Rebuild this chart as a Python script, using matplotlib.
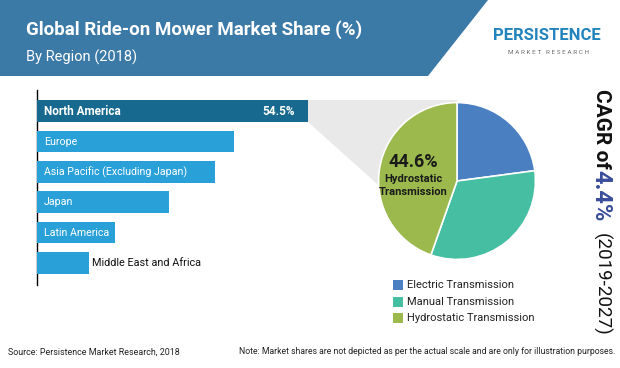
import matplotlib
matplotlib.use("Agg")
import matplotlib.pyplot as plt
from matplotlib import font_manager
from matplotlib.patches import Polygon, Rectangle

names = {f.name for f in font_manager.fontManager.ttflist}
NARROW = "Liberation Sans Narrow" if "Liberation Sans Narrow" in names else "Roboto"
MAIN = "Roboto" if "Roboto" in names else "DejaVu Sans"
plt.rcParams["font.family"] = [MAIN, "DejaVu Sans"]

# ---- data ----
regions = ["North America", "Europe", "Asia Pacific (Excluding Japan)", "Japan",
           "Latin America", "Middle East and Africa"]
region_share = [54.5, 39.6, 35.8, 26.6, 15.7, 10.5]
segments = ["Electric Transmission", "Manual Transmission", "Hydrostatic Transmission"]
segment_share = [22.9, 32.5, 44.6]
seg_colors = ["#4a80c2", "#45bea2", "#9bb94c"]
title = "Global Ride-on Mower Market Share (%)"
subtitle = "By Region (2018)"
cagr = "4.4%"
period = "(2019-2027)"

W, H = 620, 368
fig = plt.figure(figsize=(W / 100, H / 100), dpi=100)
fig.patch.set_facecolor("white")

def rect(x, y, w, h):
    return [x / W, 1 - (y + h) / H, w / W, h / H]

# overlay axes in pixel coordinates
ov = fig.add_axes([0, 0, 1, 1], zorder=0)
ov.set_xlim(0, W)
ov.set_ylim(H, 0)
ov.axis("off")

# header band
ov.add_patch(Polygon([(0, 0), (488, 0), (428, 76), (0, 76)], closed=True,
                     facecolor="#3b79a7", edgecolor="none"))
ov.text(26, 30, title, color="white", fontsize=13.5, fontweight="bold",
        family=[NARROW, MAIN], va="center", ha="left")
ov.text(26, 57, subtitle, color="white", fontsize=10.5,
        family=[NARROW, MAIN], va="center", ha="left")
# logo
ov.text(547, 36, "PERSISTENCE", color="#2384bd", fontsize=12, fontweight="bold",
        family=[NARROW, MAIN], va="center", ha="center")
ov.text(548, 52, "M A R K E T   R E S E A R C H", color="#6d6d6d", fontsize=4.6,
        family=[NARROW, MAIN], va="center", ha="center")

# connector shading from NA bar to pie
ov.add_patch(Polygon([(308, 100), (458, 100), (395, 200), (308, 122)], closed=True,
                     facecolor="#e9e9e9", edgecolor="none"))
# vertical axis line
ov.plot([37, 37], [90, 285], color="black", lw=1.0)

# bar axes
xmax = region_share[0] * 300 / 271
bx = fig.add_axes(rect(37, 96, 300, 182), zorder=2)
bx.set_xlim(0, xmax)
bx.set_ylim(len(regions) - 0.5, -0.5)
bx.axis("off")
bx.patch.set_alpha(0)
ypos = list(range(len(regions)))
bar_colors = ["#17698f"] + ["#2aa0d8"] * (len(regions) - 1)
bx.barh(ypos, region_share, height=0.72, color=bar_colors, edgecolor="none")
for i, (r, v) in enumerate(zip(regions, region_share)):
    if i == 0:
        bx.text(1.4, i, r, color="white", fontsize=8.5, fontweight="bold",
                family=[NARROW, MAIN], va="center")
        bx.text(v - 2.6, i, f"{v}%", color="white", fontsize=8.5, fontweight="bold",
                family=[NARROW, MAIN], va="center", ha="right")
    elif i == len(regions) - 1:
        bx.text(v + 0.6, i, r, color="#111111", fontsize=7.8,
                family=[NARROW, MAIN], va="center")
    else:
        bx.text(1.4, i, r, color="white", fontsize=7.7,
                family=[NARROW, MAIN], va="center")

# pie
px = fig.add_axes(rect(377, 101, 160, 160), zorder=3)
px.pie(segment_share, colors=seg_colors, startangle=90, counterclock=False,
       radius=1.0, wedgeprops=dict(edgecolor="white", linewidth=1.2))
px.set_xlim(-1.02, 1.02)
px.set_ylim(-1.02, 1.02)
px.set_aspect("equal")
px.axis("off")
px.patch.set_alpha(0)

ov2 = fig.add_axes([0, 0, 1, 1], zorder=4)
ov2.set_xlim(0, W)
ov2.set_ylim(H, 0)
ov2.axis("off")
ov2.patch.set_alpha(0)
ov2.text(413, 162, f"{segment_share[2]}%", fontsize=13, fontweight="bold",
         color="#1b1b1b", family=[NARROW, MAIN], ha="center", va="center")
ov2.text(413, 179, "Hydrostatic", fontsize=8, fontweight="bold",
         color="#1b1b1b", family=[NARROW, MAIN], ha="center", va="center")
ov2.text(413, 192, "Transmission", fontsize=8, fontweight="bold",
         color="#1b1b1b", family=[NARROW, MAIN], ha="center", va="center")

# legend
for k, (s, c) in enumerate(zip(segments, seg_colors)):
    yc = 285 + k * 16.7
    ov2.add_patch(Rectangle((393, yc - 5), 10, 10, facecolor=c, edgecolor="none"))
    ov2.text(407, yc, s, fontsize=8, color="#222222", family=[NARROW, MAIN],
             va="center", ha="left")

# CAGR vertical text
ov2.text(601, 89, "CAGR of", fontsize=15, fontweight="bold", color="#111111",
         rotation=-90, family=[NARROW, MAIN], ha="center", va="top")
ov2.text(601, 170, cagr, fontsize=17, fontweight="bold", color="#3a4d9c",
         rotation=-90, family=[NARROW, MAIN], ha="center", va="top")
ov2.text(601, 233, period, fontsize=13.5, color="#111111",
         rotation=-90, family=[NARROW, MAIN], ha="center", va="top")

# footer
ov2.text(8, 352, "Source: Persistence Market Research, 2018", fontsize=6.4,
         color="#222222", family=[NARROW, MAIN], va="center", ha="left")
ov2.text(615, 352, "Note: Market shares are not depicted as per the actual scale "
         "and are only for illustration purposes.", fontsize=6.2,
         color="#222222", family=[NARROW, MAIN], va="center", ha="right")

fig.savefig("out.png", dpi=100, facecolor="white")
